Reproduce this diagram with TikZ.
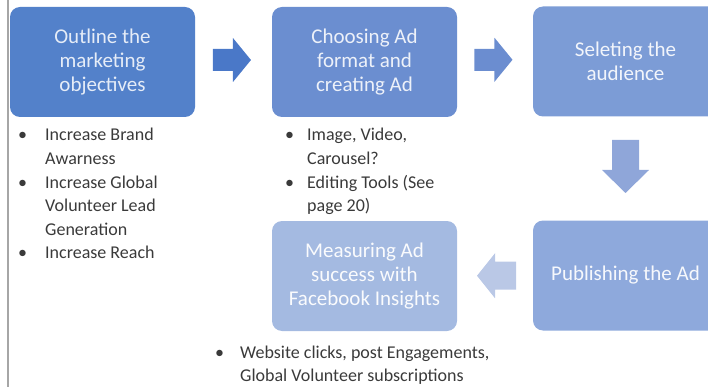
\documentclass[tikz,border=0pt]{standalone}
\usepackage{fontspec}
\setmainfont{Carlito}
\usetikzlibrary{calc}

\definecolor{boxA}{HTML}{5381CA}
\definecolor{boxB}{HTML}{6B8ED0}
\definecolor{boxC}{HTML}{7C9CD6}
\definecolor{boxD}{HTML}{8EA9DC}
\definecolor{boxE}{HTML}{A4BAE1}
\definecolor{arrA}{HTML}{4A78C8}
\definecolor{arrB}{HTML}{6B8DD0}
\definecolor{arrC}{HTML}{8FA6D9}
\definecolor{arrD}{HTML}{BAC8E6}
\definecolor{listgray}{HTML}{3A3A3A}
\definecolor{rulegray}{HTML}{A6A6A6}

\tikzset{
  stepbox/.style={draw=none, rounded corners=10pt, minimum width=185pt,
    minimum height=110pt, inner sep=0pt, align=center,
    font=\fontsize{21}{24}\selectfont},
  notelist/.style={anchor=base west, inner sep=0pt, text=listgray,
    font=\fontsize{18}{23.6}\selectfont}
}

\begin{document}
\begin{tikzpicture}[x=1pt,y=-1pt]
\useasboundingbox (0,0) rectangle (708,387);
\begin{scope}
\clip (0,0) rectangle (708,387);

% page margin rule
\draw[rulegray, line width=1.5pt] (8,0) -- (8,387);

% process steps
\node[stepbox, fill=boxA, text=white!85!boxA] (s1) at (102.5,62)
  {Outline the\\marketing\\objectives};
\node[stepbox, fill=boxB, text=white!88!boxB] (s2) at (364.5,62)
  {Choosing Ad\\format and\\creating Ad};
\node[stepbox, fill=boxC, text=white!90!boxC] (s3) at (625.5,61.5)
  {Seleting the\\audience};
\node[stepbox, fill=boxD, text=white!92!boxD] (s4) at (625.5,275.5)
  {Publishing the Ad};
\node[stepbox, fill=boxE, text=white!94!boxE] (s5) at (364.5,276)
  {Measuring Ad\\success with\\Facebook Insights};

% block arrows between the steps, centred on points between the boxes
\coordinate (a1) at ($(s1.east)!0.48!(s2.west)+(0,-2)$);
\coordinate (a2) at ($(s2.east)!0.48!(s3.west)+(0,-2)$);
\coordinate (a3) at ($(s3.south)!0.5!(s4.north)$);
\coordinate (a4) at ($(s5.east)!0.52!(s4.west)$);

\fill[arrA] (a1) ++(-19,-11) -- ++(20,0) -- ++(0,-11) -- ++(18,22)
  -- ++(-18,22) -- ++(0,-11) -- ++(-20,0) -- cycle;
\fill[arrB] (a2) ++(-19,-11) -- ++(20,0) -- ++(0,-11) -- ++(18,22)
  -- ++(-18,22) -- ++(0,-11) -- ++(-20,0) -- cycle;
\fill[arrC] (a3) ++(-13.5,-28.5) -- ++(27,0) -- ++(0,30) -- ++(10,0)
  -- ++(-23.5,23) -- ++(-23.5,-23) -- ++(10,0) -- cycle;
\fill[arrD] (a4) ++(19.5,-14) -- ++(-21,0) -- ++(0,-8.5) -- ++(-18,22.5)
  -- ++(18,22.5) -- ++(0,-8.5) -- ++(21,0) -- cycle;

% notes under the steps
\node[notelist] (n1) at (18,141) {%
  \begin{tabular}[t]{@{}p{27pt}@{}l@{}}
  \textbullet & Increase Brand\\
              & Awarness\\
  \textbullet & Increase Global\\
              & Volunteer Lead\\
              & Generation\\
  \textbullet & Increase Reach
  \end{tabular}};
\node[notelist] (n2) at (285,141) {%
  \begin{tabular}[t]{@{}p{22pt}@{}l@{}}
  \textbullet & Image, Video,\\
              & Carousel?\\
  \textbullet & Editing Tools (See\\
              & page 20)
  \end{tabular}};
\node[notelist] (n5) at (215,358) {%
  \begin{tabular}[t]{@{}p{25pt}@{}l@{}}
  \textbullet & Website clicks, post Engagements,\\
              & Global Volunteer subscriptions
  \end{tabular}};
\end{scope}
\end{tikzpicture}
\end{document}
